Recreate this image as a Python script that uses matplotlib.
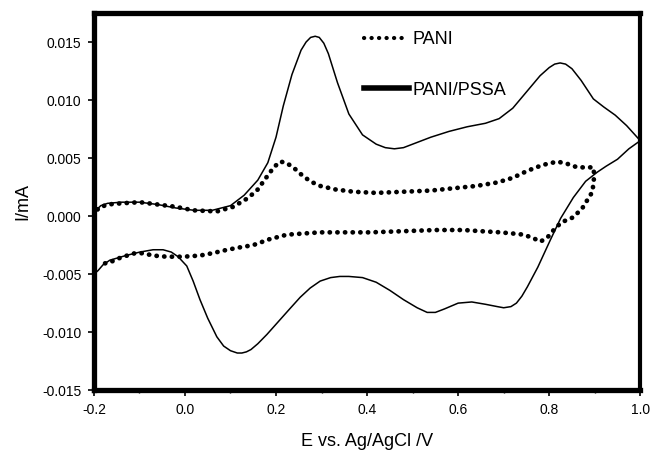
import matplotlib.pyplot as plt
from matplotlib.lines import Line2D
from matplotlib.ticker import MultipleLocator

plt.rcParams['font.family'] = ['Liberation Sans', 'DejaVu Sans']

# PANI/PSSA: anodic sweep then cathodic sweep (E in V, I in mA)
pssa_e = [-0.200, -0.195, -0.185, -0.170, -0.140, -0.100, -0.060, -0.020, 0.020, 0.060,
          0.100, 0.130, 0.160, 0.182, 0.200, 0.216, 0.235, 0.255, 0.266, 0.276,
          0.286, 0.295, 0.305, 0.315, 0.335, 0.360, 0.390, 0.420, 0.440, 0.460,
          0.480, 0.500, 0.540, 0.580, 0.620, 0.660, 0.690, 0.720, 0.750, 0.780,
          0.800, 0.812, 0.824, 0.836, 0.850, 0.870, 0.897, 0.920, 0.945, 0.970,
          1.000,
          0.975, 0.950, 0.925, 0.906, 0.880, 0.853, 0.825, 0.802, 0.775, 0.752,
          0.740, 0.728, 0.716, 0.700, 0.686, 0.660, 0.630, 0.600, 0.570, 0.550,
          0.532, 0.510, 0.480, 0.450, 0.420, 0.390, 0.360, 0.340, 0.320, 0.297,
          0.275, 0.253, 0.230, 0.205, 0.180, 0.160, 0.145, 0.135, 0.125, 0.115,
          0.100, 0.085, 0.070, 0.050, 0.033, 0.018, 0.004, -0.015, -0.030, -0.048,
          -0.070, -0.099, -0.130, -0.165, -0.180, -0.191, -0.200]
pssa_i = [0.0000, 0.0005, 0.0009, 0.0011, 0.0012, 0.0012, 0.0010, 0.0007, 0.0005, 0.0005,
          0.0009, 0.0018, 0.0031, 0.0046, 0.0068, 0.0095, 0.0122, 0.0143, 0.0150, 0.0154,
          0.0155, 0.0154, 0.0149, 0.0140, 0.0115, 0.0088, 0.0070, 0.0062, 0.0059, 0.0058,
          0.0059, 0.0062, 0.0068, 0.0073, 0.0077, 0.0080, 0.0084, 0.0093, 0.0107, 0.0121,
          0.0128, 0.0131, 0.0132, 0.0131, 0.0127, 0.0117, 0.0101, 0.0094, 0.0087, 0.0078,
          0.0065,
          0.0058, 0.0049, 0.0043, 0.0038, 0.0030, 0.0016, -0.0002, -0.0021, -0.0044, -0.0061,
          -0.0069, -0.0075, -0.0078, -0.0079, -0.0078, -0.0076, -0.0074, -0.0075, -0.0080, -0.0083,
          -0.0083, -0.0079, -0.0072, -0.0064, -0.0057, -0.0053, -0.0052, -0.0052, -0.0053, -0.0056,
          -0.0062, -0.0070, -0.0080, -0.0091, -0.0102, -0.0110, -0.0115, -0.0117, -0.0118, -0.0118,
          -0.0116, -0.0112, -0.0104, -0.0088, -0.0072, -0.0056, -0.0043, -0.0035, -0.0031, -0.0029,
          -0.0029, -0.0031, -0.0034, -0.0038, -0.0042, -0.0047, -0.0050]

# PANI: anodic sweep then cathodic sweep
pani_e = [-0.200, -0.190, -0.170, -0.140, -0.099, -0.060, -0.020, 0.018, 0.070, 0.106,
          0.136, 0.158, 0.180, 0.195, 0.209, 0.222, 0.238, 0.255, 0.275, 0.297,
          0.330, 0.370, 0.420, 0.480, 0.540, 0.590, 0.640, 0.686, 0.720, 0.752,
          0.785, 0.818, 0.840, 0.862, 0.880, 0.897, 0.899, 0.895, 0.884, 0.873,
          0.853, 0.829, 0.814, 0.797, 0.781, 0.765, 0.744, 0.720, 0.693, 0.650,
          0.612, 0.550, 0.480, 0.407, 0.350, 0.297, 0.260, 0.224, 0.185, 0.150,
          0.120, 0.093, 0.060, 0.033, -0.004, -0.040, -0.070, -0.092, -0.110, -0.127,
          -0.150, -0.165, -0.180]
pani_i = [0.0000, 0.0007, 0.0010, 0.0011, 0.0012, 0.0010, 0.0008, 0.0005, 0.0004, 0.0008,
          0.0015, 0.0022, 0.0034, 0.0042, 0.0047, 0.0046, 0.0042, 0.0036, 0.0030, 0.0026,
          0.0023, 0.0021, 0.0020, 0.0021, 0.0022, 0.0024, 0.0026, 0.0029, 0.0033, 0.0039,
          0.0044, 0.0047, 0.0045, 0.0042, 0.0042, 0.0042, 0.0035, 0.0021, 0.0014, 0.0007,
          -0.0001, -0.0005, -0.0010, -0.0018, -0.0022, -0.0019, -0.0016, -0.0015, -0.0014, -0.0013,
          -0.0012, -0.0012, -0.0013, -0.0014, -0.0014, -0.0014, -0.0015, -0.0016, -0.0020, -0.0025,
          -0.0027, -0.0029, -0.0032, -0.0034, -0.0035, -0.0035, -0.0034, -0.0032, -0.0032, -0.0034,
          -0.0037, -0.0040, -0.0041]

fig = plt.figure(figsize=(6.52, 4.5), dpi=100)
ax = fig.add_axes([0.144, 0.133, 0.838, 0.838])

ax.plot(pssa_e, pssa_i, color='black', lw=1.1, zorder=2)
ax.plot(pani_e, pani_i, color='black', lw=3.4, linestyle=(0, (0.05, 1.57)),
        dash_capstyle='round', zorder=2)

ax.set_xlim(-0.2, 1.0)
ax.set_ylim(-0.015, 0.0175)
ax.xaxis.set_minor_locator(MultipleLocator(0.1))
ax.set_yticks([-0.015, -0.010, -0.005, 0.0, 0.005, 0.010, 0.015])
ax.set_xticks([-0.2, 0.0, 0.2, 0.4, 0.6, 0.8, 1.0])
ax.set_xticklabels(['-0.2', '0.0', '0.2', '0.4', '0.6', '0.8', '1.0'])
ax.set_yticklabels(['-0.015', '-0.010', '-0.005', '0.000', '0.005', '0.010', '0.015'])
ax.tick_params(which='major', direction='out', length=4, width=1.2, labelsize=10, pad=5)
ax.tick_params(which='minor', direction='out', length=2.5, width=1)

for side in ['left', 'bottom', 'top']:
    ax.spines[side].set_linewidth(3.8)
ax.spines['right'].set_linewidth(3.0)
for sp in ax.spines.values():
    sp.set_zorder(3)

ax.set_xlabel('E vs. Ag/AgCl /V', fontsize=13, labelpad=12)
ax.set_ylabel('I/mA', fontsize=13, labelpad=8)

# legend dots are a little smaller than those on the curve
handles = [Line2D([], [], color='black', lw=3.0, linestyle=(0, (0.05, 1.75)),
                  dash_capstyle='round'),
           Line2D([], [], color='black', lw=4)]
leg = ax.legend(handles, ['PANI', 'PANI/PSSA'], loc='upper left',
                bbox_to_anchor=(0.465, 0.995), frameon=False, fontsize=13,
                handlelength=2.5, handletextpad=0.15, labelspacing=1.85)

fig.savefig('out.png', dpi=100)
